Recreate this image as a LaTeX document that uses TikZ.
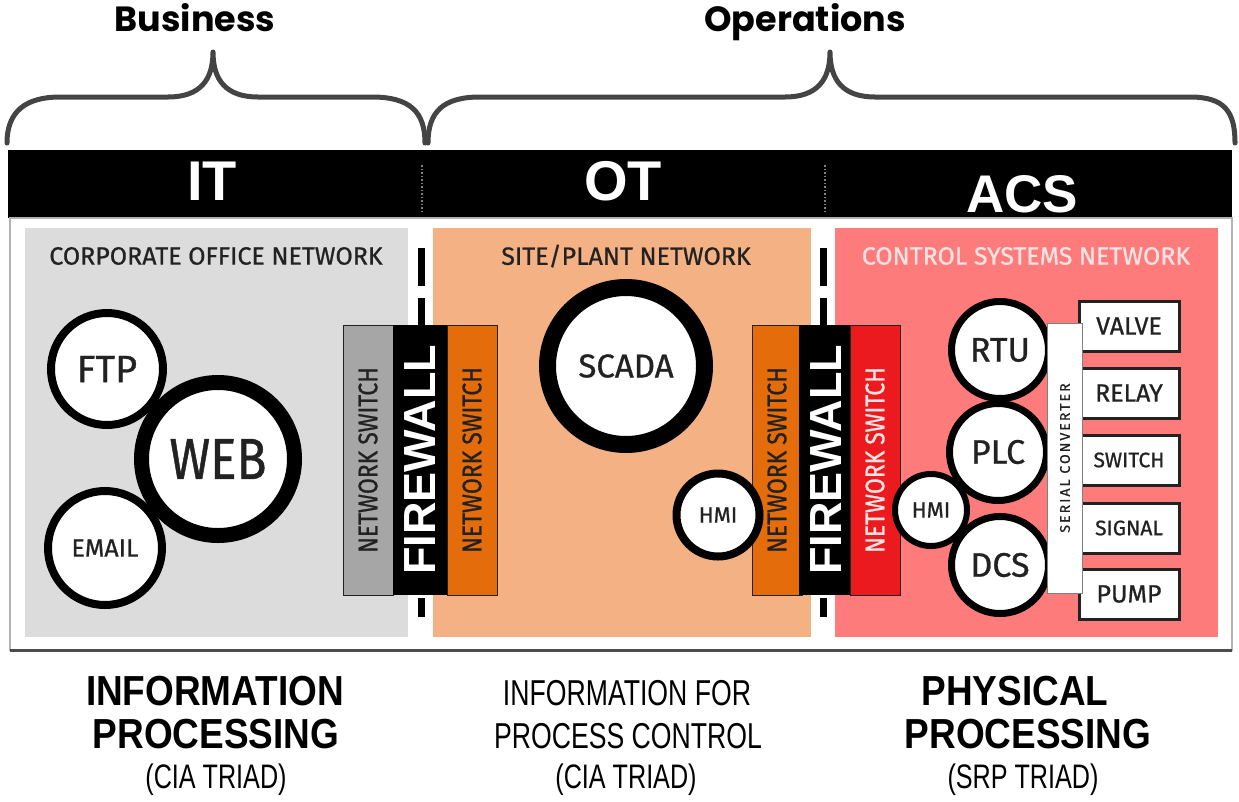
\documentclass[tikz,border=0pt]{standalone}
\usepackage{fontspec}
\setmainfont{Liberation Sans}
\newfontfamily\din[FakeBold=0.8]{Fira Sans}
\newfontfamily\dinc[FakeStretch=0.85,FakeBold=0.8]{Fira Sans}
\newfontfamily\narrow[FakeStretch=0.88]{Liberation Sans}
\newfontfamily\slim[FakeStretch=0.74]{Liberation Sans}
\newfontfamily\pop{Poppins}
\usetikzlibrary{positioning}

\definecolor{ink}{HTML}{222222}
\definecolor{bracegray}{HTML}{444444}
\definecolor{itgray}{HTML}{DCDCDC}
\definecolor{otorange}{HTML}{F4B183}
\definecolor{acsred}{HTML}{FE7B7B}
\definecolor{swgray}{HTML}{A6A6A6}
\definecolor{sworange}{HTML}{E46C0A}
\definecolor{swred}{HTML}{EA1A1F}
\definecolor{palepink}{HTML}{FBE3E3}

\begin{document}
\begin{tikzpicture}[x=1pt, y=-1pt,
  brace/.style={bracegray, line width=5pt, line cap=round, line join=round},
  head/.style={inner sep=0pt, text=white, font=\bfseries\fontsize{56}{60}\selectfont},
  zone/.style={inner sep=0pt, text=ink, font=\din\fontsize{25}{28}\selectfont},
  wall/.style={line width=7pt, dash pattern=on 38pt off 12pt},
  sw/.style={rotate=90, draw=ink, line width=1pt, minimum width=270pt, minimum height=50pt,
    inner sep=0pt, text=ink, font=\dinc\fontsize{27}{29}\selectfont},
  fw/.style={rotate=90, fill=black, minimum width=270pt, minimum height=54pt, inner sep=0pt,
    text=white, font=\bfseries\fontsize{45}{47}\selectfont},
  dev/.style={circle, draw, fill=white, inner sep=0pt, text=ink},
  io/.style={draw=ink, line width=3pt, fill=white, minimum width=100pt, minimum height=50pt,
    inner sep=0pt, text=ink, font=\din\fontsize{25}{27}\selectfont},
  lab/.style={inner sep=0pt, text=black, anchor=base},
  heading/.style={lab, font=\narrow\bfseries\fontsize{42}{44}\selectfont},
  triad/.style={lab, font=\slim\fontsize{34}{36}\selectfont}]
  \useasboundingbox (0,0) rectangle (1239,801);

  % braces and group labels
  \draw[brace] (7,143) .. controls (7,112) and (25,97) .. (60,97) -- (168,97)
    .. controls (200,97) and (213,80) .. (213,52) .. controls (213,80) and (226,97) .. (258,97)
    -- (372,97) .. controls (410,97) and (425,112) .. (425,143);
  \draw[brace] (428,143) .. controls (428,112) and (443,97) .. (480,97) -- (785,97)
    .. controls (817,97) and (830,80) .. (830,52) .. controls (830,80) and (843,97) .. (875,97)
    -- (1190,97) .. controls (1225,97) and (1235,112) .. (1235,143);
  \node[lab, font=\pop\bfseries\fontsize{35}{38}\selectfont] (biz) at (195,31) {Business};
  \node[lab, font=\pop\bfseries\fontsize{35}{38}\selectfont] (ops) at (805,31) {Operations};

  % header bar
  \fill (8,150) rectangle (1232,218);
  \node[head] (it) at (212,181) {IT};
  \node[head] (ot) at (623,181) {OT};
  \node[head, font=\bfseries\fontsize{53}{56}\selectfont] (acs) at (1022,194) {ACS};
  \draw[gray, line width=1.5pt, dotted] (422,165) -- (422,212);
  \draw[gray, line width=1.5pt, dotted] (825,165) -- (825,212);

  % frame and zones
  \draw[fill=white, draw=gray!60, line width=1.5pt] (10,218) rectangle (1232,650);
  \draw[line width=3pt, black!70] (10,650) -- (1232,650);
  \fill[itgray] (25,228) rectangle (408,637);
  \fill[otorange] (433,228) rectangle (811,637);
  \fill[acsred] (835,228) rectangle (1218,637);
  \node[zone] (corp) at (216,256) {CORPORATE OFFICE NETWORK};
  \node[zone] (site) at (626,256) {SITE/PLANT NETWORK};
  \node[zone, text=palepink] (ctrl) at (1026,256) {CONTROL SYSTEMS NETWORK};

  % firewalls
  \draw[wall] (421,248) -- (421,617);
  \draw[wall] (823,248) -- (823,617);
  \node[sw, fill=swgray] (swa) at (368,460) {NETWORK SWITCH};
  \node[fw] (fwa) at (420,460) {FIREWALL};
  \node[sw, fill=sworange] (swb) at (472,460) {NETWORK SWITCH};
  \node[sw, fill=sworange] (swc) at (777,460) {NETWORK SWITCH};
  \node[fw] (fwb) at (826,460) {FIREWALL};
  \node[sw, fill=swred, text=palepink] (swd) at (875,460) {NETWORK SWITCH};

  % IT
  \node[dev, line width=15pt, minimum size=153pt, font=\dinc\fontsize{58}{60}\selectfont] (web) at (218,459) {WEB};
  \node[dev, line width=8pt, minimum size=112pt, font=\din\fontsize{38}{40}\selectfont] (ftp) at (107,369) {FTP};
  \node[dev, line width=8pt, minimum size=114pt, font=\din\fontsize{25}{27}\selectfont] (email) at (105,548) {EMAIL};

  % OT
  \node[dev, line width=17pt, minimum size=157pt, font=\din\fontsize{33}{35}\selectfont] (scada) at (626,366) {SCADA};
  \node[dev, line width=8pt, minimum size=83pt, font=\din\fontsize{22}{24}\selectfont] (hmia) at (718,515) {HMI};

  % ACS
  \node[dev, line width=7pt, minimum size=97pt, font=\din\fontsize{34}{36}\selectfont] (rtu) at (1000,350) {RTU};
  \node[dev, line width=7pt, minimum size=97pt, font=\din\fontsize{34}{36}\selectfont] (plc) at (998,452) {PLC};
  \node[dev, line width=7pt, minimum size=97pt, font=\din\fontsize{34}{36}\selectfont] (dcs) at (1000,565) {DCS};
  \node[dev, line width=6pt, minimum size=72pt, font=\din\fontsize{22}{24}\selectfont] (hmib) at (931,510) {HMI};
  \node[io] (valve) at (1129,326) {VALVE};
  \node[io] (relay) at (1129,393) {RELAY};
  \node[io, font=\din\fontsize{21}{23}\selectfont] (switch) at (1129,460) {SWITCH};
  \node[io, font=\din\fontsize{21}{23}\selectfont] (signal) at (1129,528) {SIGNAL};
  \node[io] (pump) at (1129,594) {PUMP};
  \node[rotate=90, draw=gray, fill=white, line width=1pt, minimum width=270pt, minimum height=35pt,
    inner sep=0pt, text=ink, font=\din\fontsize{14}{16}\selectfont\addfontfeature{LetterSpace=15}] (conv) at (1065,458) {SERIAL CONVERTER};

  % bottom captions
  \node[heading] (infa) at (215,705) {INFORMATION};
  \node[heading] (proa) at (216,748) {PROCESSING};
  \node[triad] (tria) at (216,788) {(CIA TRIAD)};
  \node[lab, font=\slim\fontsize{36}{38}\selectfont] (infb) at (627,705) {INFORMATION FOR};
  \node[lab, font=\slim\fontsize{36}{38}\selectfont] (prob) at (628,748) {PROCESS CONTROL};
  \node[triad] (trib) at (626,788) {(CIA TRIAD)};
  \node[heading] (phyc) at (1015,705) {PHYSICAL};
  \node[heading] (proc) at (1028,748) {PROCESSING};
  \node[triad] (tric) at (1023,788) {(SRP TRIAD)};
\end{tikzpicture}
\end{document}
